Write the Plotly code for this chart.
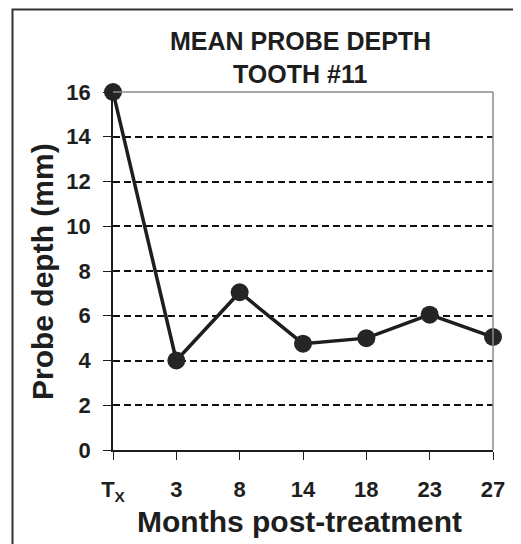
import plotly.graph_objects as go

months = ["T<sub>X</sub>", "3", "8", "14", "18", "23", "27"]
probe_depth = [16, 4, 7.05, 4.75, 5.0, 6.05, 5.05]
y_ticks = [0, 2, 4, 6, 8, 10, 12, 14, 16]

# page has an 8px body margin; work in screen pixels and convert
OFF = 8
W, H = 521 - OFF, 544 - OFF
L, R, T, B = 113 - OFF, 28, 92 - OFF, 94
pw, ph = W - L - R, H - T - B

def px(x):
    return (x - OFF - L) / pw

def py(y):
    return (H - B - (y - OFF)) / ph

FONT = "Liberation Sans, Arial, sans-serif"
DARK = "#1e1e1e"

fig = go.Figure()
fig.add_trace(go.Scatter(
    x=list(range(len(months))), y=probe_depth, mode="lines+markers",
    line=dict(color=DARK, width=3.5),
    marker=dict(size=18, color="#252525", symbol="circle"),
    cliponaxis=False, showlegend=False,
))

fig.update_layout(
    width=W, height=H,
    margin=dict(l=L, r=R, t=T, b=B),
    paper_bgcolor="white", plot_bgcolor="white",
    font=dict(family=FONT, color=DARK),
    xaxis=dict(
        range=[0, len(months) - 1], tickmode="array",
        tickvals=list(range(len(months))), ticktext=[f"<b>{m}</b>" for m in months],
        showgrid=False, zeroline=False, showline=True, linecolor=DARK, linewidth=1.5,
        ticks="outside", ticklen=8, tickwidth=1.2, tickcolor=DARK,
        tickfont=dict(size=22, family=FONT, color=DARK),
        ticklabelstandoff=11,
    ),
    yaxis=dict(
        range=[0, 16], tickmode="array", tickvals=y_ticks,
        ticktext=[f"<b>{v}</b>" for v in y_ticks],
        showgrid=True, gridcolor="#111", gridwidth=1.7, griddash="7px,4px",
        zeroline=False, showline=True, linecolor=DARK, linewidth=1.5,
        ticks="outside", ticklen=8, tickwidth=1.2, tickcolor=DARK,
        tickfont=dict(size=22, family=FONT, color=DARK),
        ticklabelstandoff=8,
    ),
    shapes=[
        dict(type="line", xref="paper", yref="paper", x0=0, x1=1, y0=1, y1=1,
             line=dict(color="#8a8a8a", width=1.5), layer="above"),
        dict(type="line", xref="paper", yref="paper", x0=1, x1=1, y0=0, y1=1,
             line=dict(color="#8a8a8a", width=1.5), layer="above"),
        dict(type="rect", xref="paper", yref="paper",
             x0=px(12.5), x1=px(540), y0=py(570), y1=py(9.5),
             line=dict(color="#333", width=2), layer="above"),
    ],
    annotations=[
        dict(text="<b>MEAN PROBE DEPTH</b>", xref="paper", yref="paper",
             x=px(300), y=py(41), xanchor="center", yanchor="middle",
             showarrow=False, font=dict(size=25, family=FONT, color=DARK)),
        dict(text="<b>TOOTH #11</b>", xref="paper", yref="paper",
             x=px(300), y=py(74), xanchor="center", yanchor="middle",
             showarrow=False, font=dict(size=25, family=FONT, color=DARK)),
        dict(text="<b>Months post-treatment</b>", xref="paper", yref="paper",
             x=px(299), y=py(521), xanchor="center", yanchor="middle",
             showarrow=False, font=dict(size=30, family=FONT, color=DARK)),
        dict(text="<b>Probe depth (mm)</b>", xref="paper", yref="paper",
             x=px(42), y=py(272), xanchor="center", yanchor="middle", textangle=-90,
             showarrow=False, font=dict(size=30, family=FONT, color=DARK)),
    ],
)

fig.write_html("out.html")
